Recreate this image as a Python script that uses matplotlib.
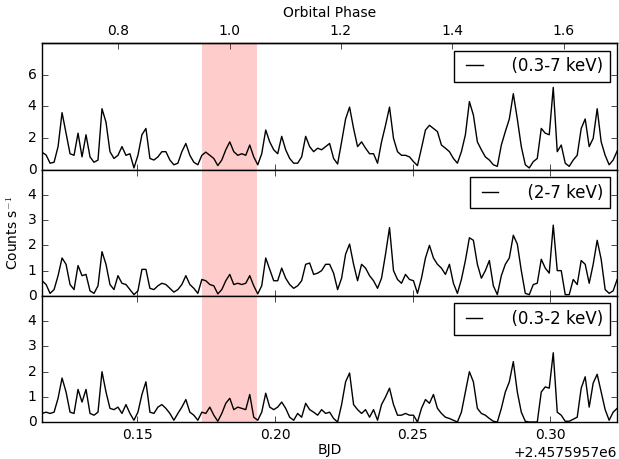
import numpy as np
import matplotlib
matplotlib.use("Agg")
import matplotlib.pyplot as plt
from matplotlib.ticker import ScalarFormatter

# light curve bins (BJD), regular spacing
t_start = 2457595.81535
bin_width = 0.001451

# orbital ephemeris used for the top axis
T0 = 2457595.88345
period = 0.2023
eclipse = (0.95, 1.05)

# count rates (counts/s) per band
rate_full = [1.09, 0.92, 0.40, 0.46, 1.45, 3.6, 2.3, 1.0, 0.9, 2.3, 0.8, 2.2, 0.8, 0.46,
             0.6, 3.85, 3.0, 1.13, 0.7, 0.9, 1.45, 0.9, 1.0, 0.1, 0.9, 2.2, 2.6, 0.7,
             0.6, 0.8, 1.13, 1.13, 0.6, 0.3, 0.4, 1.13, 1.65, 0.9, 0.46, 0.3, 0.9, 1.1,
             0.9, 0.7, 0.25, 0.6, 1.25, 1.75, 1.13, 0.9, 1.0, 0.9, 1.55, 0.8, 0.3, 1.0,
             2.5, 1.75, 1.25, 1.0, 2.1, 1.25, 0.7, 0.4, 0.4, 0.8, 2.1, 1.45, 1.13, 1.35,
             1.25, 1.45,
             1.65, 0.7, 0.35, 1.75, 3.2, 3.95, 2.6, 1.45, 1.75, 1.35, 1.0, 1.0, 0.4,
             1.75, 2.8, 3.95, 1.97, 1.13, 0.9, 0.9, 0.8, 0.5, 0.25, 1.35, 2.5, 2.8, 2.6,
             2.4, 1.55, 1.35, 1.13, 0.7, 0.4, 1.13, 2.2, 4.3, 3.45, 1.75, 1.25, 0.8,
             0.6, 0.3, 0.2, 1.55, 2.4, 3.2, 4.8, 3.2, 1.45, 0.3, 0.1, 0.5, 0.7, 2.6,
             2.3, 2.2, 5.2, 1.13, 1.55, 0.4, 0.2, 0.6, 0.9, 2.6, 3.2, 1.45, 1.97, 3.85,
             1.75, 0.9, 0.3, 0.6, 1.17]

rate_hard = [0.6, 0.45, 0.1, 0.25, 0.8, 1.5, 1.25, 0.45, 0.25, 1.2, 0.8, 0.85, 0.2, 0.1,
             0.4, 1.75, 1.25, 0.45, 0.25, 0.8, 0.5, 0.45, 0.25, 0.05, 0.2, 1.05, 1.05,
             0.3, 0.25, 0.4, 0.5, 0.45, 0.3, 0.15, 0.25, 0.45, 0.8, 0.45, 0.3, 0.1, 0.65,
             0.6, 0.45, 0.4, 0.08, 0.25, 0.6, 0.85, 0.45, 0.5, 0.45, 0.5, 0.8, 0.4, 0.08,
             0.4, 1.5, 1.05, 0.6, 0.6, 1.1, 0.7, 0.45, 0.3, 0.4, 0.6, 1.25, 1.3, 0.85,
             0.9, 1.0, 1.25,
             1.25, 0.9, 0.25, 0.7, 1.65, 2.05, 1.25, 0.6, 1.25, 1.1, 0.8, 0.6, 0.3, 0.7,
             1.65, 2.7, 1.0, 0.65, 0.5, 0.85, 0.65, 0.6, 0.1, 0.7, 1.5, 2.0, 1.5, 1.25,
             1.1, 0.85, 1.25, 0.5, 0.1, 0.65, 1.4, 2.3, 2.2, 1.25, 0.7, 1.0, 1.4, 0.4,
             0.05, 0.8, 1.25, 1.5, 2.4, 2.05, 1.0, 0.1, 0.05, 0.45, 0.5, 1.45, 1.1, 0.9,
             2.8, 1.0, 1.0, 0.05, 0.05, 0.65, 0.45, 1.4, 1.25, 0.5, 1.25, 2.2, 1.45,
             0.25, 0.1, 0.2, 0.65]

rate_soft = [0.35, 0.4, 0.35, 0.4, 0.95, 1.75, 1.2, 0.4, 0.35, 1.3, 0.8, 1.3, 0.35, 0.28,
             0.4, 2.0, 1.2, 0.55, 0.5, 0.6, 0.35, 0.7, 0.35, 0.08, 0.4, 1.1, 1.6, 0.4,
             0.35, 0.6, 0.7, 0.55, 0.35, 0.08, 0.35, 0.6, 0.9, 0.4, 0.28, 0.08, 0.4,
             0.35, 0.6, 0.28, 0.04, 0.35, 0.75, 0.95, 0.5, 0.6, 0.55, 0.5, 1.1, 0.2,
             0.08, 0.4, 1.15, 0.6, 0.5, 0.6, 0.8, 0.55, 0.2, 0.08, 0.35, 0.2, 0.75, 0.5,
             0.4, 0.28, 0.5, 0.35,
             0.4, 0.15, 0.01, 0.7, 1.6, 1.95, 0.7, 0.5, 0.35, 0.5, 0.2, 0.5, 0.08, 0.7,
             1.0, 1.35, 0.7, 0.28, 0.28, 0.35, 0.28, 0.28, 0.01, 0.55, 0.9, 0.75, 1.1,
             0.55, 0.35, 0.2, 0.15, 0.08, 0.01, 0.4, 1.2, 2.0, 1.6, 0.55, 0.35, 0.28,
             0.15, 0.04, 0.01, 0.55, 1.2, 1.6, 2.4, 1.2, 0.4, 0.04, 0.01, 0.01, 0.01,
             1.2, 1.4, 1.35, 2.75, 0.4, 0.28, 0.04, 0.04, 0.12, 0.2, 1.35, 1.8, 0.6,
             1.55, 1.9, 1.2, 0.5, 0.08, 0.4, 0.55]

bands = ["(0.3-7 keV)", "(2-7 keV)", "(0.3-2 keV)"]
series = [rate_full, rate_hard, rate_soft]
ylims = [8, 5, 5]
yticks = [[0, 2, 4, 6], [0, 1, 2, 3, 4], [0, 1, 2, 3, 4]]


def to_phase(t):
    return 1.0 + (t - T0) / period


def to_bjd(ph):
    return T0 + (ph - 1.0) * period


plt.style.use("classic")
plt.rcParams["font.size"] = 10
plt.rcParams["legend.fontsize"] = 12

fig, axes = plt.subplots(3, 1, sharex=True, figsize=(6.19, 4.59), dpi=100)
fig.subplots_adjust(left=0.068, right=0.997, top=0.906, bottom=0.08, hspace=0)

t_end = t_start + bin_width * (len(rate_full) - 1)
for ax, rate, band, ymax, yt in zip(axes, series, bands, ylims, yticks):
    t = t_start + bin_width * np.arange(len(rate))
    ax.axvspan(to_bjd(eclipse[0]), to_bjd(eclipse[1]), color="red", alpha=0.2, lw=0)
    ax.plot(t, rate, color="k", lw=1, label="  " + band)
    ax.set_ylim(0, ymax)
    ax.set_yticks(yt)
    ax.legend(loc="upper right", handlelength=1.6, handletextpad=0.8,
              borderaxespad=0.45)

axes[0].set_xlim(t_start, t_end)
axes[0].xaxis.set_ticks_position("bottom")
fmt = ScalarFormatter(useOffset=2457595.7)
axes[2].xaxis.set_major_formatter(fmt)
axes[2].set_xticks([2457595.85, 2457595.90, 2457595.95, 2457596.00])
axes[2].set_xlabel("BJD", labelpad=1)
axes[1].set_ylabel("Counts s$^{-1}$")

top = axes[0].secondary_xaxis("top", functions=(to_phase, to_bjd))
top.set_xticks([0.8, 1.0, 1.2, 1.4, 1.6])
top.set_xlabel("Orbital Phase")

fig.savefig("out.png", dpi=100)
